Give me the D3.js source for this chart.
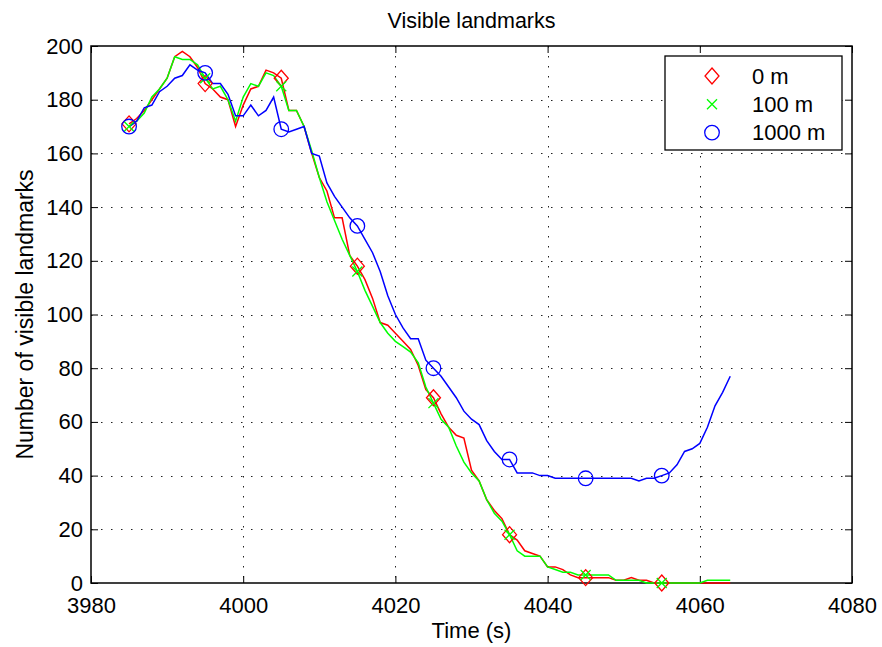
<!DOCTYPE html>
<html>
<head>
<meta charset="utf-8">
<script src="https://cdn.jsdelivr.net/npm/d3@7"></script>
<style>
  body { margin: 0; background: #fff; }
  text { font-family: "Liberation Sans", Arial, Helvetica, sans-serif; }
</style>
</head>
<body>
<svg id="chart" width="882" height="647"></svg>
<script>
// time stamps (s), one sample per second
var time = [3985,3986,3987,3988,3989,3990,3991,3992,3993,3994,
            3995,3996,3997,3998,3999,4000,4001,4002,4003,4004,
            4005,4006,4007,4008,4009,4010,4011,4012,4013,4014,
            4015,4016,4017,4018,4019,4020,4021,4022,4023,4024,
            4025,4026,4027,4028,4029,4030,4031,4032,4033,4034,
            4035,4036,4037,4038,4039,4040,4041,4042,4043,4044,
            4045,4046,4047,4048,4049,4050,4051,4052,4053,4054,
            4055,4056,4057,4058,4059,4060,4061,4062,4063,4064]

var series0m = [171,173,176,180,184,188,196,198,196,192,
                186,184,181,180,170,178,184,185,191,190,
                188,176,176,170,160,151,146,136,136,122,
                118,113,106,97,96,93,90,87,81,72,
                69,63,58,55,54,42,38,31,27,24,
                18,16,12,11,10,6,6,5,3,2,
                2,2,2,2,1,1,2,1,1,0,
                0,0,0,0,0,0,0,0,0,0]

var series100m = [170,172,175,181,184,188,196,195,195,193,
                  188,184,185,180,172,181,186,185,190,189,
                  185,176,176,170,161,151,142,135,128,122,
                  116,109,103,97,93,90,88,86,82,73,
                  67,61,58,51,45,41,38,31,26,23,
                  18,12,10,10,10,6,5,4,4,3,
                  3,3,3,3,1,1,1,1,0,0,
                  0,0,0,0,0,0,1,1,1,1]

var series1000m = [170,172,177,178,183,185,188,189,193,191,
                   190,186,186,182,174,174,178,174,176,181,
                   169,168,169,170,160,159,149,144,140,136,
                   133,128,123,116,107,100,95,91,91,83,
                   80,77,73,69,64,61,59,53,49,46,
                   46,41,41,41,40,40,39,39,39,39,
                   39,39,39,39,39,39,39,38,39,39,
                   40,41,44,49,50,52,58,66,71,77]

// every 10th sample gets a marker
var markerTimes = [3985,3995,4005,4015,4025,4035,4045,4055]

var xTicks = [3980,4000,4020,4040,4060,4080]
var yTicks = [0,20,40,60,80,100,120,140,160,180,200]
var legendLabels = ["0 m","100 m","1000 m"]

var svg = d3.select("#chart")
var mLeft = 91, mRight = 852, mTop = 46, mBottom = 583
var width = mRight - mLeft, height = mBottom - mTop

var xScale = d3.scaleLinear().domain([3980, 4080]).range([0, width])
var yScale = d3.scaleLinear().domain([0, 200]).range([height, 0])

var g = svg.append("g").attr("transform", "translate(" + mLeft + "," + mTop + ")")

// dotted grid
g.append("g").selectAll("line")
  .data(xTicks.slice(1, -1))
  .enter().append("line")
  .attr("x1", function (d) { return Math.round(xScale(d)) + 0.5 })
  .attr("x2", function (d) { return Math.round(xScale(d)) + 0.5 })
  .attr("y1", 0).attr("y2", height)
  .style("stroke", "#222").style("stroke-dasharray", "1.5,8.5")

g.append("g").selectAll("line")
  .data(yTicks.slice(1, -1))
  .enter().append("line")
  .attr("y1", function (d) { return Math.round(yScale(d)) + 0.5 })
  .attr("y2", function (d) { return Math.round(yScale(d)) + 0.5 })
  .attr("x1", 0).attr("x2", width)
  .style("stroke", "#222").style("stroke-dasharray", "1.5,8.5")

// axes, ticks pointing inward on all four sides
var tickLen = 7
g.append("g").attr("transform", "translate(0," + height + ")")
  .call(d3.axisBottom(xScale).tickValues(xTicks).tickFormat(d3.format("d"))
    .tickSizeInner(-tickLen).tickSizeOuter(0).tickPadding(14))
g.append("g")
  .call(d3.axisTop(xScale).tickValues(xTicks).tickSizeInner(-tickLen).tickSizeOuter(0).tickFormat(""))
g.append("g")
  .call(d3.axisLeft(yScale).tickValues(yTicks).tickFormat(d3.format("d"))
    .tickSizeInner(-tickLen).tickSizeOuter(0).tickPadding(8))
g.append("g").attr("transform", "translate(" + width + ",0)")
  .call(d3.axisRight(yScale).tickValues(yTicks).tickSizeInner(-tickLen).tickSizeOuter(0).tickFormat(""))

g.selectAll(".domain").remove()
g.selectAll(".tick line").style("stroke", "#000")
g.selectAll(".tick text").style("font-size", "22px").style("fill", "#000")
  .style("font-family", "'Liberation Sans', Arial, sans-serif")

g.append("rect")
  .attr("x", 0).attr("y", 0).attr("width", width).attr("height", height)
  .style("fill", "none").style("stroke", "#000").style("stroke-width", 1.5)

// lines
var seriesList = [
  { values: series0m, color: "#ff0000", marker: "diamond" },
  { values: series100m, color: "#00ff00", marker: "cross" },
  { values: series1000m, color: "#0000ff", marker: "circle" }
]

var line = d3.line()
  .x(function (d) { return xScale(d[0]) })
  .y(function (d) { return yScale(d[1]) })

function drawMarker(sel, type, color) {
  if (type == "diamond") {
    sel.append("path").attr("d", "M0,-8L7,0L0,8L-7,0Z")
      .style("fill", "none").style("stroke", color).style("stroke-width", 1.3)
  } else if (type == "cross") {
    sel.append("path").attr("d", "M-5,-5L5,5M-5,5L5,-5")
      .style("fill", "none").style("stroke", color).style("stroke-width", 1.3)
  } else {
    sel.append("circle").attr("r", 7.3)
      .style("fill", "none").style("stroke", color).style("stroke-width", 1.3)
  }
}

for (let i = 0; i < seriesList.length; i++) {
  let s = seriesList[i]
  let pts = time.map(function (t, j) { return [t, s.values[j]] })

  g.append("path")
    .datum(pts)
    .attr("d", line)
    .style("fill", "none")
    .style("stroke", s.color)
    .style("stroke-width", 1.5)
}

for (let i = 0; i < seriesList.length; i++) {
  let s = seriesList[i]
  let marks = time.map(function (t, j) { return [t, s.values[j]] })
    .filter(function (d) { return markerTimes.indexOf(d[0]) >= 0 })
  g.append("g").selectAll("g")
    .data(marks)
    .enter().append("g")
    .attr("transform", function (d) { return "translate(" + xScale(d[0]) + "," + yScale(d[1]) + ")" })
    .each(function () { drawMarker(d3.select(this), s.marker, s.color) })
}

// title and axis labels
svg.append("text")
  .attr("x", mLeft + width / 2).attr("y", 28)
  .attr("text-anchor", "middle")
  .style("font-size", "21.5px")
  .text("Visible landmarks")

svg.append("text")
  .attr("x", mLeft + width / 2).attr("y", 638)
  .attr("text-anchor", "middle")
  .style("font-size", "22px")
  .text("Time (s)")

svg.append("text")
  .attr("transform", "translate(33," + (mTop + height / 2) + ")rotate(-90)")
  .attr("text-anchor", "middle")
  .style("font-size", "23px")
  .text("Number of visible landmarks")

// legend
var legend = svg.append("g").attr("transform", "translate(665,56)")
legend.append("rect")
  .attr("width", 177).attr("height", 94)
  .style("fill", "#fff").style("stroke", "#000").style("stroke-width", 1.3)

for (let i = 0; i < seriesList.length; i++) {
  let row = legend.append("g").attr("transform", "translate(47," + (20 + i * 28.3) + ")")
  drawMarker(row, seriesList[i].marker, seriesList[i].color)
  row.append("text")
    .attr("x", 40).attr("dy", "0.35em")
    .style("font-size", "22px")
    .text(legendLabels[i])
}
</script>
</body>
</html>
